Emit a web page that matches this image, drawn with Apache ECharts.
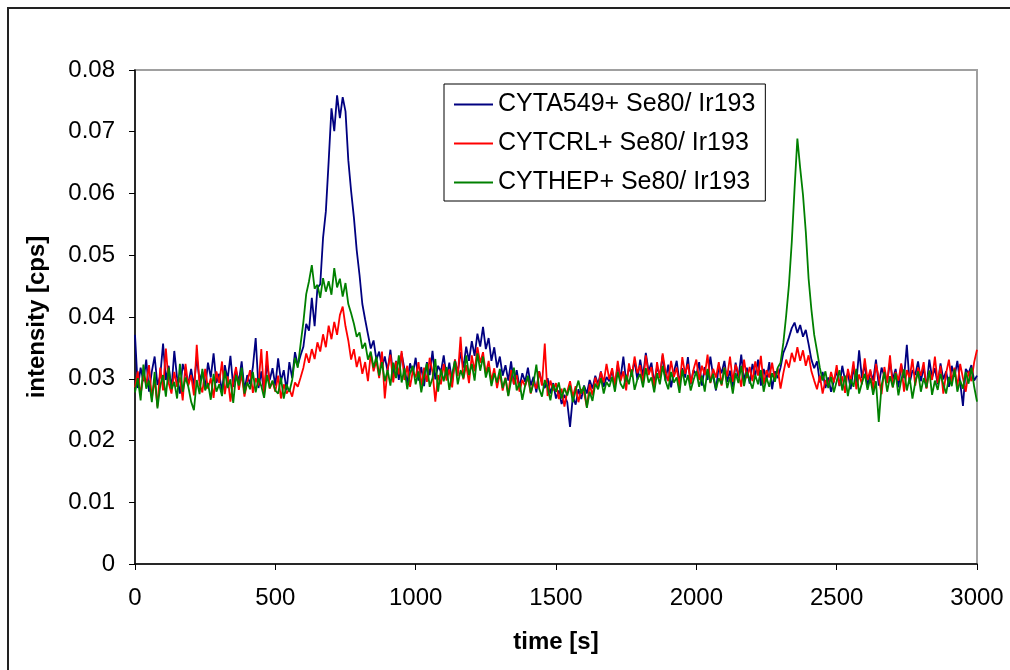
<!DOCTYPE html>
<html>
<head>
<meta charset="utf-8">
<script src="https://cdn.jsdelivr.net/npm/echarts@6/dist/echarts.min.js"></script>
<style>
html,body{margin:0;padding:0;background:#fff;}
#chart{width:1010px;height:670px;}
</style>
</head>
<body>
<div id="chart"></div>
<script>
// sample grid (s)
const timeStart = 0;
const timeStep = 10;

const seriesNames = ['CYTA549+ Se80/ Ir193', 'CYTCRL+ Se80/ Ir193', 'CYTHEP+ Se80/ Ir193'];

const xTicks = [0, 500, 1000, 1500, 2000, 2500, 3000];
const yTicks = [0, 0.01, 0.02, 0.03, 0.04, 0.05, 0.06, 0.07, 0.08];

const cyta549 = [
0.0371,0.0285,0.0318,0.0296,0.0331,0.0279,0.0312,0.0336,0.0290,0.0305,
0.0357,0.0298,0.0321,0.0283,0.0345,0.0301,0.0276,0.0324,0.0309,0.0292,
0.0316,0.0288,0.0335,0.0297,0.0311,0.0284,0.0326,0.0302,0.0341,0.0293,
0.0308,0.0279,0.0322,0.0299,0.0337,0.0287,0.0314,0.0295,0.0328,0.0282,
0.0306,0.0291,0.0319,0.0366,0.0285,0.0312,0.0277,0.0324,0.0298,0.0317,
0.0289,0.0333,0.0296,0.0314,0.0281,0.0327,0.0301,0.0343,0.0322,0.0338,
0.0352,0.0389,0.0378,0.0431,0.0385,0.0447,0.0453,0.0528,0.0571,0.0652,
0.0738,0.0701,0.0759,0.0722,0.0756,0.0733,0.0654,0.0604,0.0561,0.0508,
0.0468,0.0421,0.0396,0.0372,0.0349,0.0362,0.0331,0.0344,0.0318,0.0336,
0.0312,0.0347,0.0305,0.0329,0.0298,0.0341,0.0316,0.0293,0.0325,0.0308,
0.0334,0.0297,0.0319,0.0288,0.0327,0.0306,0.0345,0.0299,0.0321,0.0311,
0.0338,0.0302,0.0326,0.0294,0.0331,0.0309,0.0343,0.0318,0.0352,0.0329,
0.0361,0.0337,0.0373,0.0352,0.0384,0.0348,0.0366,0.0329,0.0351,0.0318,
0.0336,0.0305,0.0322,0.0297,0.0328,0.0291,0.0314,0.0286,0.0309,0.0295,
0.0318,0.0289,0.0303,0.0278,0.0312,0.0294,0.0285,0.0301,0.0276,0.0293,
0.0268,0.0281,0.0259,0.0274,0.0262,0.0222,0.0271,0.0258,0.0283,0.0267,
0.0289,0.0276,0.0298,0.0284,0.0305,0.0291,0.0312,0.0287,0.0303,0.0296,
0.0314,0.0289,0.0322,0.0301,0.0336,0.0295,0.0318,0.0307,0.0329,0.0298,
0.0331,0.0304,0.0342,0.0312,0.0326,0.0293,0.0319,0.0305,0.0338,0.0297,
0.0323,0.0286,0.0311,0.0329,0.0294,0.0317,0.0302,0.0335,0.0291,0.0314,
0.0306,0.0327,0.0289,0.0319,0.0298,0.0336,0.0304,0.0281,0.0322,0.0309,
0.0329,0.0295,0.0313,0.0287,0.0326,0.0301,0.0339,0.0296,0.0318,0.0292,
0.0324,0.0305,0.0331,0.0289,0.0316,0.0298,0.0327,0.0283,0.0312,0.0301,
0.0318,0.0342,0.0353,0.0367,0.0382,0.0391,0.0374,0.0387,0.0368,0.0379,
0.0356,0.0331,0.0317,0.0328,0.0294,0.0311,0.0285,0.0302,0.0279,0.0296,
0.0313,0.0288,0.0321,0.0297,0.0309,0.0283,0.0318,0.0293,0.0346,0.0301,
0.0324,0.0286,0.0312,0.0297,0.0331,0.0289,0.0318,0.0304,0.0295,0.0327,
0.0299,0.0316,0.0286,0.0323,0.0301,0.0355,0.0292,0.0314,0.0306,0.0328,
0.0296,0.0319,0.0285,0.0331,0.0302,0.0317,0.0291,0.0325,0.0299,0.0312,
0.0287,0.0321,0.0303,0.0329,0.0294,0.0256,0.0316,0.0309,0.0322,0.0297,
0.0305
];

const cytcrl = [
0.0286,0.0312,0.0274,0.0305,0.0291,0.0322,0.0268,0.0299,0.0255,0.0318,
0.0281,0.0349,0.0293,0.0276,0.0311,0.0287,0.0302,0.0265,0.0324,0.0289,
0.0306,0.0273,0.0355,0.0291,0.0278,0.0316,0.0284,0.0301,0.0269,0.0312,
0.0293,0.0328,0.0275,0.0304,0.0263,0.0297,0.0319,0.0282,0.0308,0.0271,
0.0295,0.0314,0.0277,0.0301,0.0289,0.0348,0.0273,0.0345,0.0284,0.0296,
0.0279,0.0305,0.0268,0.0291,0.0276,0.0283,0.0271,0.0294,0.0287,0.0302,
0.0318,0.0341,0.0326,0.0348,0.0332,0.0359,0.0344,0.0372,0.0351,0.0386,
0.0364,0.0392,0.0371,0.0403,0.0417,0.0385,0.0362,0.0331,0.0348,0.0319,
0.0336,0.0308,0.0327,0.0296,0.0341,0.0312,0.0329,0.0301,0.0344,0.0268,
0.0316,0.0339,0.0294,0.0328,0.0307,0.0345,0.0298,0.0321,0.0287,0.0313,
0.0302,0.0327,0.0289,0.0318,0.0295,0.0334,0.0311,0.0263,0.0306,0.0291,
0.0324,0.0297,0.0315,0.0286,0.0331,0.0304,0.0368,0.0299,0.0322,0.0293,
0.0338,0.0312,0.0351,0.0326,0.0343,0.0308,0.0329,0.0296,0.0317,0.0285,
0.0309,0.0281,0.0302,0.0273,0.0314,0.0291,0.0306,0.0279,0.0298,0.0288,
0.0303,0.0276,0.0295,0.0284,0.0312,0.0289,0.0357,0.0272,0.0297,0.0281,
0.0293,0.0267,0.0284,0.0255,0.0279,0.0296,0.0271,0.0288,0.0262,0.0283,
0.0277,0.0254,0.0291,0.0273,0.0302,0.0286,0.0311,0.0294,0.0324,0.0299,
0.0317,0.0288,0.0329,0.0296,0.0312,0.0281,0.0325,0.0303,0.0336,0.0309,
0.0322,0.0291,0.0338,0.0306,0.0319,0.0284,0.0327,0.0301,0.0341,0.0312,
0.0296,0.0329,0.0303,0.0318,0.0287,0.0335,0.0308,0.0324,0.0292,0.0315,
0.0331,0.0298,0.0321,0.0306,0.0339,0.0293,0.0316,0.0302,0.0327,0.0289,
0.0318,0.0304,0.0336,0.0295,0.0323,0.0309,0.0287,0.0331,0.0301,0.0319,
0.0296,0.0328,0.0305,0.0337,0.0291,0.0314,0.0302,0.0326,0.0298,0.0317,
0.0284,0.0309,0.0331,0.0318,0.0342,0.0327,0.0351,0.0329,0.0346,0.0321,
0.0338,0.0312,0.0297,0.0283,0.0305,0.0276,0.0298,0.0287,0.0311,0.0294,
0.0322,0.0289,0.0304,0.0277,0.0316,0.0296,0.0328,0.0283,0.0307,0.0291,
0.0333,0.0298,0.0315,0.0281,0.0324,0.0302,0.0275,0.0319,0.0293,0.0338,
0.0286,0.0311,0.0297,0.0325,0.0279,0.0314,0.0301,0.0332,0.0289,0.0318,
0.0305,0.0327,0.0284,0.0313,0.0298,0.0336,0.0293,0.0321,0.0276,0.0309,
0.0331,0.0295,0.0318,0.0287,0.0324,0.0301,0.0279,0.0312,0.0296,0.0327,
0.0347
];

const cythep = [
0.0278,0.0301,0.0265,0.0323,0.0284,0.0297,0.0262,0.0311,0.0252,0.0289,
0.0306,0.0271,0.0318,0.0283,0.0295,0.0268,0.0324,0.0279,0.0302,0.0287,
0.0263,0.0249,0.0298,0.0275,0.0316,0.0281,0.0293,0.0266,0.0308,0.0279,
0.0291,0.0272,0.0313,0.0285,0.0299,0.0261,0.0306,0.0289,0.0318,0.0276,
0.0294,0.0283,0.0311,0.0278,0.0301,0.0288,0.0269,0.0306,0.0285,0.0297,
0.0281,0.0276,0.0302,0.0268,0.0291,0.0279,0.0298,0.0334,0.0318,0.0356,
0.0392,0.0437,0.0458,0.0484,0.0446,0.0452,0.0431,0.0463,0.0441,0.0458,
0.0436,0.0479,0.0448,0.0462,0.0433,0.0455,0.0421,0.0406,0.0389,0.0368,
0.0375,0.0349,0.0358,0.0331,0.0344,0.0318,0.0336,0.0305,0.0327,0.0296,
0.0314,0.0289,0.0326,0.0301,0.0338,0.0294,0.0317,0.0283,0.0309,0.0321,
0.0291,0.0312,0.0278,0.0304,0.0325,0.0287,0.0301,0.0332,0.0279,0.0315,
0.0296,0.0319,0.0282,0.0308,0.0329,0.0291,0.0314,0.0301,0.0338,0.0306,
0.0324,0.0297,0.0341,0.0313,0.0336,0.0302,0.0319,0.0288,0.0309,0.0294,
0.0316,0.0285,0.0301,0.0272,0.0297,0.0318,0.0281,0.0294,0.0266,0.0289,
0.0305,0.0277,0.0293,0.0323,0.0284,0.0271,0.0298,0.0286,0.0265,0.0291,
0.0279,0.0294,0.0268,0.0285,0.0273,0.0289,0.0262,0.0281,0.0297,0.0276,
0.0288,0.0253,0.0279,0.0264,0.0292,0.0283,0.0301,0.0276,0.0295,0.0287,
0.0303,0.0279,0.0311,0.0292,0.0284,0.0306,0.0291,0.0315,0.0282,0.0299,
0.0308,0.0286,0.0317,0.0294,0.0302,0.0278,0.0309,0.0291,0.0321,0.0297,
0.0283,0.0311,0.0294,0.0302,0.0277,0.0315,0.0289,0.0306,0.0281,0.0298,
0.0312,0.0287,0.0305,0.0279,0.0316,0.0294,0.0308,0.0283,0.0301,0.0291,
0.0318,0.0285,0.0303,0.0276,0.0309,0.0293,0.0321,0.0288,0.0311,0.0297,
0.0284,0.0306,0.0291,0.0314,0.0279,0.0302,0.0287,0.0309,0.0295,0.0318,
0.0326,0.0358,0.0402,0.0452,0.0521,0.0608,0.0689,0.0641,0.0598,0.0538,
0.0462,0.0412,0.0371,0.0345,0.0318,0.0297,0.0312,0.0285,0.0303,0.0278,
0.0296,0.0314,0.0281,0.0305,0.0272,0.0299,0.0287,0.0316,0.0276,0.0293,
0.0308,0.0282,0.0301,0.0274,0.0296,0.0230,0.0289,0.0311,0.0279,0.0304,
0.0286,0.0309,0.0273,0.0298,0.0315,0.0281,0.0302,0.0268,0.0294,0.0312,
0.0279,0.0301,0.0286,0.0313,0.0274,0.0297,0.0282,0.0308,0.0291,0.0276,
0.0303,0.0288,0.0315,0.0279,0.0297,0.0284,0.0311,0.0292,0.0318,0.0287,
0.0263
];

const seriesValues = [cyta549, cytcrl, cythep];
const seriesColors = ['#000080', '#ff0000', '#008000'];

function toPairs(vals) {
  return vals.map((v, i) => [timeStart + i * timeStep, v]);
}

const FONT = '"Liberation Sans", Arial, sans-serif';

const chart = echarts.init(document.getElementById('chart'), null, { renderer: 'canvas' });
chart.setOption({
  animation: false,
  backgroundColor: '#ffffff',
  textStyle: { fontFamily: FONT },
  graphic: [{
    type: 'rect',
    shape: { x: 8, y: 8, width: 1020, height: 680 },
    style: { fill: 'none', stroke: '#222', lineWidth: 2 },
    silent: true,
    z: 0
  }],
  grid: {
    left: 135, top: 70, right: 33, bottom: 106,
    show: true, borderColor: '#a0a0a0', borderWidth: 2, backgroundColor: 'transparent'
  },
  legend: {
    orient: 'vertical',
    left: 444, top: 84,
    backgroundColor: '#fff',
    borderColor: '#000', borderWidth: 1,
    padding: [8, 10, 6, 10],
    itemWidth: 39, itemHeight: 14, itemGap: 14, itemTextGap: 6,
    textStyle: { fontFamily: FONT, fontSize: 25, color: '#000' },
    data: seriesNames.map((n, i) => ({ name: n, icon: 'path://M0,0 L40,0 L40,2 L0,2 Z', itemStyle: { color: seriesColors[i] } }))
  },
  xAxis: {
    type: 'value',
    min: xTicks[0], max: xTicks[xTicks.length - 1], interval: 500,
    name: 'time [s]', nameLocation: 'middle', nameGap: 66,
    nameTextStyle: { fontFamily: FONT, fontSize: 24, fontWeight: 'bold', color: '#000' },
    axisLine: { show: true, onZero: false, lineStyle: { color: '#000', width: 1.5 } },
    axisTick: { show: true, inside: false, length: 6, lineStyle: { color: '#000', width: 1 } },
    axisLabel: { margin: 22, fontFamily: FONT, fontSize: 24, color: '#000', formatter: v => String(v) },
    splitLine: { show: false }
  },
  yAxis: {
    type: 'value',
    min: yTicks[0], max: yTicks[yTicks.length - 1], interval: 0.01,
    name: 'intensity [cps]', nameLocation: 'middle', nameGap: 86, nameRotate: 90,
    nameTextStyle: { fontFamily: FONT, fontSize: 24, fontWeight: 'bold', color: '#000' },
    axisLine: { show: true, onZero: false, lineStyle: { color: '#000', width: 1.5 } },
    axisTick: { show: true, inside: false, length: 6, lineStyle: { color: '#000', width: 1 } },
    axisLabel: { margin: 20, fontFamily: FONT, fontSize: 24, color: '#000',
      formatter: v => { const t = yTicks.find(y => Math.abs(y - v) < 1e-9); return t === 0 ? '0' : String(t); } },
    splitLine: { show: false }
  },
  series: seriesValues.map((vals, i) => ({
    name: seriesNames[i],
    type: 'line',
    data: toPairs(vals),
    symbol: 'none',
    showSymbol: false,
    lineStyle: { color: seriesColors[i], width: 1.8 },
    itemStyle: { color: seriesColors[i] },
    z: 2 + i
  }))
});
</script>
</body>
</html>
